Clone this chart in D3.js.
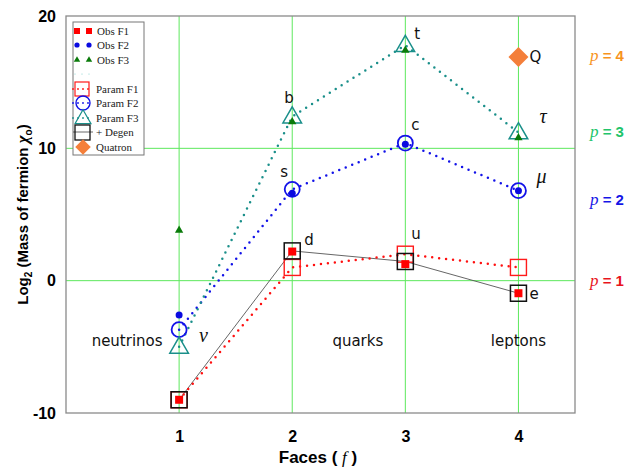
<!DOCTYPE html>
<html>
<head>
<meta charset="utf-8">
<script src="https://cdn.jsdelivr.net/npm/d3@7.9.0/dist/d3.min.js"></script>
<style>
  body { margin: 0; background: #fff; }
  svg { display: block; }
  .tick text { font-family: Arial, "Liberation Sans", sans-serif; font-weight: bold; font-size: 16px; }
</style>
</head>
<body>
<svg id="chart" width="632" height="469"></svg>
<script>
// faces
const faces = [1, 2, 3, 4];

// observed values (log2 mass)
const obsF1 = [-9.0, 2.2, 1.25, -0.95];
const obsF2 = [-2.6, 6.6, 10.3, 6.8];
const obsF3 = [3.8, 12.0, 17.4, 10.8];

// parametrised values
const paramF1 = [-9.0, 1.0, 2.0, 1.0];
const paramF2 = [-3.7, 6.9, 10.4, 6.8];
const paramF3 = [-5.0, 12.4, 17.8, 11.2];
const degen = [-9.0, 2.25, 1.45, -0.95];

const quatron = { face: 4, value: 16.9 };

const yTicks = [-10, 0, 10, 20];
const groupLabels = [
  { face: 1, text: 'neutrinos', dx: -52 },
  { face: 2.58, text: 'quarks', dx: 0 },
  { face: 4, text: 'leptons', dx: 0 }
];
const pLabels = [
  { text: '4', value: 17.0, color: '#f7941d' },
  { text: '3', value: 11.2, color: '#22c46a' },
  { text: '2', value: 6.1, color: '#1515e6' },
  { text: '1', value: 0.0, color: '#e8141c' }
];

const svg = d3.select('#chart');
const margin = { left: 66, right: 57, top: 16, bottom: 56 };
const W = 632, H = 469;

const x = d3.scaleLinear().domain([0, 4.5]).range([margin.left, W - margin.right]);
const y = d3.scaleLinear().domain([-10, 20]).range([H - margin.bottom, margin.top]);

// grid lines
const grid = svg.append('g');
faces.forEach(f => {
  grid.append('line')
    .attr('x1', x(f)).attr('x2', x(f))
    .attr('y1', y(-10)).attr('y2', y(20))
    .attr('stroke', '#5de85d').attr('stroke-width', 1);
});
[0, 10].forEach(v => {
  grid.append('line')
    .attr('x1', x(0)).attr('x2', x(4.5))
    .attr('y1', y(v)).attr('y2', y(v))
    .attr('stroke', '#5de85d').attr('stroke-width', 1);
});

// frame
svg.append('rect')
  .attr('x', x(0)).attr('y', y(20))
  .attr('width', x(4.5) - x(0)).attr('height', y(-10) - y(20))
  .attr('fill', 'none').attr('stroke', '#8a8a8a').attr('stroke-width', 1.3);

// axes
const xAxis = svg.append('g')
  .attr('transform', `translate(0,${y(-10)})`)
  .call(d3.axisBottom(x).tickValues(faces).tickSize(0).tickPadding(18).tickFormat(d => String(d)));
xAxis.select('.domain').remove();

const yAxis = svg.append('g')
  .attr('transform', `translate(${x(0)},0)`)
  .call(d3.axisLeft(y).tickValues(yTicks).tickSize(0).tickPadding(10).tickFormat(d => String(d)));
yAxis.select('.domain').remove();
yAxis.selectAll('.tick text').attr('dy', '0.32em');

// axis titles
svg.append('text')
  .attr('x', 318).attr('y', 463)
  .attr('text-anchor', 'middle')
  .style('font-family', 'Arial, "Liberation Sans", sans-serif')
  .style('font-weight', 'bold').style('font-size', '17px')
  .html('Faces ( <tspan font-family="Liberation Serif, serif" font-style="italic" font-weight="normal">f</tspan> )');

svg.append('text')
  .attr('transform', `translate(28,${(y(-10) + y(20)) / 2}) rotate(-90)`)
  .attr('text-anchor', 'middle')
  .style('font-family', 'Arial, "Liberation Sans", sans-serif')
  .style('font-weight', 'bold').style('font-size', '15px')
  .html('Log<tspan font-size="10px" dy="4">2</tspan><tspan dy="-4"> (Mass of fermion </tspan><tspan font-family="Liberation Serif, serif" font-style="italic" font-size="17px">χ</tspan><tspan font-size="10px" dy="4">o</tspan><tspan dy="-4">)</tspan>');

const line = d3.line().x((d, i) => x(faces[i])).y(d => y(d));

// series lines
svg.append('path').datum(degen).attr('d', line)
  .attr('fill', 'none').attr('stroke', '#555').attr('stroke-width', 0.9);
svg.append('path').datum(paramF1).attr('d', line)
  .attr('fill', 'none').attr('stroke', '#ff1010').attr('stroke-width', 2.5)
  .attr('stroke-dasharray', '0 7').attr('stroke-linecap', 'round');
svg.append('path').datum(paramF2).attr('d', line)
  .attr('fill', 'none').attr('stroke', '#1212e8').attr('stroke-width', 2.5)
  .attr('stroke-dasharray', '0 7').attr('stroke-linecap', 'round');
svg.append('path').datum(paramF3).attr('d', line)
  .attr('fill', 'none').attr('stroke', '#1a8f8a').attr('stroke-width', 2.5)
  .attr('stroke-dasharray', '0 7').attr('stroke-linecap', 'round');

const sym = (type, size) => d3.symbol().type(type).size(size)();

// param markers (open)
const marks = svg.append('g');
paramF1.forEach((v, i) => marks.append('rect')
  .attr('x', x(faces[i]) - 8).attr('y', y(v) - 8).attr('width', 16).attr('height', 16)
  .attr('fill', 'none').attr('stroke', '#ff1a1a').attr('stroke-width', 1.4));
paramF2.forEach((v, i) => marks.append('circle')
  .attr('cx', x(faces[i])).attr('cy', y(v)).attr('r', 7.5)
  .attr('fill', 'none').attr('stroke', '#1212e8').attr('stroke-width', 1.8));
paramF3.forEach((v, i) => marks.append('path')
  .attr('transform', `translate(${x(faces[i])},${y(v) + 1})`)
  .attr('d', sym(d3.symbolTriangle, 150))
  .attr('fill', 'none').attr('stroke', '#1a8f8a').attr('stroke-width', 1.5));
degen.forEach((v, i) => marks.append('rect')
  .attr('x', x(faces[i]) - 8).attr('y', y(v) - 8).attr('width', 16).attr('height', 16)
  .attr('fill', 'none').attr('stroke', '#111').attr('stroke-width', 1.5));

// observed markers (filled)
obsF1.forEach((v, i) => marks.append('rect')
  .attr('x', x(faces[i]) - 4).attr('y', y(v) - 4).attr('width', 8).attr('height', 8)
  .attr('fill', '#ff0000'));
obsF2.forEach((v, i) => marks.append('circle')
  .attr('cx', x(faces[i])).attr('cy', y(v)).attr('r', 3.5)
  .attr('fill', '#0a0ae0'));
obsF3.forEach((v, i) => marks.append('path')
  .attr('transform', `translate(${x(faces[i])},${y(v)})`)
  .attr('d', sym(d3.symbolTriangle, 30))
  .attr('fill', '#0a7a0a'));

marks.append('path')
  .attr('transform', `translate(${x(quatron.face)},${y(quatron.value)}) rotate(45)`)
  .attr('d', sym(d3.symbolSquare, 200))
  .attr('fill', '#f47f3a');

// point labels
const sans = 'Verdana, "DejaVu Sans", sans-serif';
const pointLabels = [
  { text: 'b', face: 2, value: paramF3[1], dx: -8, dy: -14 },
  { text: 's', face: 2, value: paramF2[1], dx: -12, dy: -12 },
  { text: 'd', face: 2, value: degen[1], dx: 12, dy: -6 },
  { text: 't', face: 3, value: paramF3[2], dx: 9, dy: -6 },
  { text: 'c', face: 3, value: paramF2[2], dx: 6, dy: -13 },
  { text: 'u', face: 3, value: paramF1[2], dx: 6, dy: -15 },
  { text: 'Q', face: 4, value: quatron.value, dx: 11, dy: 5 },
  { text: 'e', face: 4, value: degen[3], dx: 11, dy: 6 }
];
pointLabels.forEach(d => svg.append('text')
  .attr('x', x(d.face) + d.dx).attr('y', y(d.value) + d.dy)
  .style('font-family', sans).style('font-size', '15px').attr('fill', '#111')
  .text(d.text));

const greekLabels = [
  { text: 'ν', face: 1, value: paramF2[0], dx: 20, dy: 12 },
  { text: 'τ', face: 4, value: paramF3[3], dx: 21, dy: -9 },
  { text: 'μ', face: 4, value: paramF2[3], dx: 18, dy: -8 }
];
greekLabels.forEach(d => svg.append('text')
  .attr('x', x(d.face) + d.dx).attr('y', y(d.value) + d.dy)
  .style('font-family', '"Liberation Serif", "Times New Roman", serif')
  .style('font-style', 'italic').style('font-size', '20px').attr('fill', '#111')
  .text(d.text));

groupLabels.forEach(d => svg.append('text')
  .attr('x', x(d.face) + d.dx).attr('y', 346)
  .attr('text-anchor', 'middle')
  .style('font-family', sans).style('font-size', '15px').attr('fill', '#111')
  .text(d.text));

// p labels on the right
pLabels.forEach(d => svg.append('text')
  .attr('x', 590).attr('y', y(d.value) + 5)
  .style('font-family', 'Arial, "Liberation Sans", sans-serif')
  .style('font-weight', 'bold').style('font-size', '15px').attr('fill', d.color)
  .html(`<tspan font-family="Liberation Serif, serif" font-style="italic" font-weight="normal" font-size="17px">p</tspan> = ${d.text}`));

// legend
const lg = svg.append('g').attr('transform', 'translate(73,22)');
lg.append('rect').attr('width', 71).attr('height', 133)
  .attr('fill', '#fff').attr('stroke', '#777').attr('stroke-width', 1);
const legendItems = [
  { label: 'Obs F1', y: 9 },
  { label: 'Obs F2', y: 23 },
  { label: 'Obs F3', y: 38 },
  { label: '', y: 52 },
  { label: 'Param F1', y: 67 },
  { label: 'Param F2', y: 81 },
  { label: 'Param F3', y: 96 },
  { label: '+ Degen', y: 110 },
  { label: 'Quatron', y: 125 }
];
const serif = '"Liberation Serif", "Times New Roman", serif';
legendItems.forEach(d => lg.append('text')
  .attr('x', d.y < 45 ? 24 : 23).attr('y', d.y + 4)
  .style('font-family', serif).style('font-size', '11px').attr('fill', '#222')
  .text(d.label));

[4, 16].forEach(cx => {
  lg.append('rect').attr('x', cx - 3).attr('y', 9 - 3).attr('width', 6).attr('height', 6).attr('fill', '#ff0000');
  lg.append('circle').attr('cx', cx).attr('cy', 23).attr('r', 2.6).attr('fill', '#0a0ae0');
  lg.append('path').attr('transform', `translate(${cx},38)`).attr('d', sym(d3.symbolTriangle, 18)).attr('fill', '#0a7a0a');
});
lg.append('line').attr('x1', 2).attr('x2', 22).attr('y1', 52).attr('y2', 52)
  .attr('stroke', '#7fd0cc').attr('stroke-width', 1.2).attr('stroke-dasharray', '0 7').attr('stroke-linecap', 'round');
lg.append('line').attr('x1', 0).attr('x2', 20).attr('y1', 67).attr('y2', 67)
  .attr('stroke', '#ff1010').attr('stroke-width', 1.8).attr('stroke-dasharray', '0 5').attr('stroke-linecap', 'round');
lg.append('rect').attr('x', 2).attr('y', 60).attr('width', 14).attr('height', 14)
  .attr('fill', 'none').attr('stroke', '#ff1a1a').attr('stroke-width', 1.2);
lg.append('line').attr('x1', 0).attr('x2', 20).attr('y1', 81).attr('y2', 81)
  .attr('stroke', '#1212e8').attr('stroke-width', 1.8).attr('stroke-dasharray', '0 5').attr('stroke-linecap', 'round');
lg.append('circle').attr('cx', 10).attr('cy', 81).attr('r', 7)
  .attr('fill', 'none').attr('stroke', '#1212e8').attr('stroke-width', 1.4);
lg.append('line').attr('x1', 0).attr('x2', 20).attr('y1', 96).attr('y2', 96)
  .attr('stroke', '#1a8f8a').attr('stroke-width', 1.8).attr('stroke-dasharray', '0 5').attr('stroke-linecap', 'round');
lg.append('path').attr('transform', 'translate(10,97)').attr('d', sym(d3.symbolTriangle, 110))
  .attr('fill', 'none').attr('stroke', '#1a8f8a').attr('stroke-width', 1.2);
lg.append('line').attr('x1', 0).attr('x2', 20).attr('y1', 110).attr('y2', 110)
  .attr('stroke', '#444').attr('stroke-width', 0.8);
lg.append('rect').attr('x', 2).attr('y', 103).attr('width', 15).attr('height', 15)
  .attr('fill', 'none').attr('stroke', '#111').attr('stroke-width', 1.3);
lg.append('path').attr('transform', 'translate(10,125) rotate(45)').attr('d', sym(d3.symbolSquare, 120))
  .attr('fill', '#f47f3a');
</script>
</body>
</html>
